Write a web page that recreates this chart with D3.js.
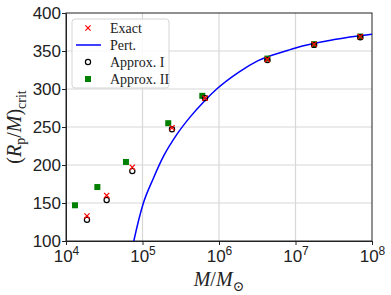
<!DOCTYPE html>
<html>
  <head>
    <meta charset="utf-8">
    <style type="text/css">
      body { margin: 0; background: #fff; }
      svg { font-family: "Liberation Serif", "DejaVu Serif", serif; }
      .grid line { stroke: #d8d8d8; stroke-width: 1.2; }
      .axis path, .axis line { stroke: #222; }
      .axis text { fill: #222; }
    </style>
  </head>
  <body>
    <script src="https://d3js.org/d3.v7.min.js"></script>
    <script>
      // values
      var exactM   = [1.88e4, 3.4e4, 7.36e4, 2.43e5, 6.56e5, 4.29e6, 1.75e7, 7.03e7];
      var exactR   = [133, 160, 197, 249, 288, 339, 359, 369];
      var approx1M = [1.88e4, 3.4e4, 7.36e4, 2.43e5, 6.56e5, 4.29e6, 1.75e7, 7.03e7];
      var approx1R = [128, 154, 192, 247, 288, 338, 358, 368];
      var approx2M = [1.31e4, 2.57e4, 6.08e4, 2.17e5, 6.05e5, 4.29e6, 1.75e7, 7.03e7];
      var approx2R = [147, 171, 204, 255, 291, 340, 359, 369];
      var pertM    = [7.0e4, 7.7e4, 1.02e5, 1.38e5, 1.87e5, 2.8e5, 4.18e5, 6.56e5, 9.33e5, 1.8e6, 3.2e6, 8.05e6, 1e7, 3.2e7, 1e8];
      var pertR    = [80, 100, 149, 182, 211, 240, 263, 285, 300, 322, 337, 351, 354, 365, 372];
      var xTicks   = [1e4, 1e5, 1e6, 1e7, 1e8];
      var yTicks   = [100, 150, 200, 250, 300, 350, 400];
      var legendLabels = ["Exact", "Pert.", "Approx. I", "Approx. II"];

      var width = 391, height = 295;
      var pLeft = 66, pRight = 372, pTop = 13, pBottom = 241;

      var x = d3.scaleLog().domain([1e4, 1e8]).range([pLeft, pRight]);
      var y = d3.scaleLinear().domain([100, 400]).range([pBottom, pTop]);

      var svg = d3.select("body").append("svg")
          .attr("width", width)
          .attr("height", height);

      svg.append("defs").append("clipPath").attr("id", "plot")
        .append("rect")
          .attr("x", pLeft).attr("y", pTop)
          .attr("width", pRight - pLeft).attr("height", pBottom - pTop);

      // grid
      var grid = svg.append("g").attr("class", "grid");
      grid.selectAll(".gx").data(xTicks.slice(1, -1)).enter().append("line")
          .attr("x1", function(d) { return x(d); }).attr("x2", function(d) { return x(d); })
          .attr("y1", pTop).attr("y2", pBottom);
      grid.selectAll(".gy").data(yTicks.slice(1, -1)).enter().append("line")
          .attr("y1", function(d) { return y(d); }).attr("y2", function(d) { return y(d); })
          .attr("x1", pLeft).attr("x2", pRight);

      // axes
      var xAxis = svg.append("g").attr("class", "axis")
          .attr("transform", "translate(0," + pBottom + ")")
          .call(d3.axisBottom(x).tickValues(xTicks).tickSize(4).tickSizeOuter(0).tickFormat(""));
      xAxis.selectAll(".tick").append("text")
          .attr("y", 21)
          .attr("text-anchor", "middle")
          .style("font-size", "17px")
          .each(function(d) {
            var t = d3.select(this);
            t.append("tspan").text("10");
            t.append("tspan").attr("dy", -7).style("font-size", "12px").text(Math.round(Math.log10(d)));
          });

      svg.append("g").attr("class", "axis")
          .attr("transform", "translate(" + pLeft + ",0)")
          .call(d3.axisLeft(y).tickValues(yTicks).tickSize(4).tickSizeOuter(0))
        .selectAll("text")
          .style("font-size", "17px")
          .attr("x", -5);

      // frame
      svg.append("rect")
          .attr("x", pLeft).attr("y", pTop)
          .attr("width", pRight - pLeft).attr("height", pBottom - pTop)
          .attr("fill", "none").attr("stroke", "#222");

      var plot = svg.append("g").attr("clip-path", "url(#plot)");

      var line = d3.line()
          .x(function(d, i) { return x(pertM[i]); })
          .y(function(d) { return y(d); })
          .curve(d3.curveMonotoneX);

      plot.append("path")
          .datum(pertR)
          .attr("d", line)
          .attr("fill", "none")
          .attr("stroke", "#0000ff")
          .attr("stroke-width", 1.5);

      // Approx. II squares
      plot.selectAll(".sq").data(approx2R).enter().append("rect")
          .attr("x", function(d, i) { return x(approx2M[i]) - 3; })
          .attr("y", function(d) { return y(d) - 3; })
          .attr("width", 6).attr("height", 6)
          .attr("fill", "#008000");

      // Approx. I circles
      plot.selectAll(".ci").data(approx1R).enter().append("circle")
          .attr("cx", function(d, i) { return x(approx1M[i]); })
          .attr("cy", function(d) { return y(d); })
          .attr("r", 2.6)
          .attr("fill", "none")
          .attr("stroke", "#000")
          .attr("stroke-width", 1.2);

      // Exact crosses
      plot.selectAll(".ex").data(exactR).enter().append("path")
          .attr("transform", function(d, i) { return "translate(" + x(exactM[i]) + "," + y(d) + ")"; })
          .attr("d", "M-2.6,-2.6L2.6,2.6M-2.6,2.6L2.6,-2.6")
          .attr("stroke", "#ff0000")
          .attr("stroke-width", 1.2);

      // legend
      var lg = svg.append("g");
      lg.append("rect")
          .attr("x", 72).attr("y", 19).attr("width", 97).attr("height", 69)
          .attr("rx", 3)
          .attr("fill", "#fff").attr("fill-opacity", 0.85)
          .attr("stroke", "#d5d5d5");
      var rowY = [28, 45, 62, 79];
      lg.append("path")
          .attr("d", "M" + (88 - 2.6) + "," + (rowY[0] - 2.6) + "l5.2,5.2m-5.2,0l5.2,-5.2")
          .attr("stroke", "#ff0000").attr("stroke-width", 1.2);
      lg.append("line")
          .attr("x1", 76).attr("x2", 101).attr("y1", rowY[1]).attr("y2", rowY[1])
          .attr("stroke", "#0000ff").attr("stroke-width", 1.5);
      lg.append("circle")
          .attr("cx", 88).attr("cy", rowY[2]).attr("r", 2.6)
          .attr("fill", "none").attr("stroke", "#000").attr("stroke-width", 1.2);
      lg.append("rect")
          .attr("x", 88 - 3).attr("y", rowY[3] - 3).attr("width", 6).attr("height", 6)
          .attr("fill", "#008000");
      lg.selectAll(".lt").data(legendLabels).enter().append("text")
          .attr("x", 110)
          .attr("y", function(d, i) { return rowY[i]; })
          .attr("dy", "0.35em")
          .style("font-size", "14px")
          .attr("fill", "#222")
          .text(function(d) { return d; });

      // axis labels
      var xl = svg.append("text")
          .attr("x", (pLeft + pRight) / 2)
          .attr("y", 286)
          .attr("text-anchor", "middle")
          .style("font-size", "20px")
          .attr("fill", "#222");
      xl.append("tspan").style("font-style", "italic").text("M");
      xl.append("tspan").text("/");
      xl.append("tspan").style("font-style", "italic").text("M");
      xl.append("tspan").attr("dy", 5).style("font-size", "14px").text("\u2299");

      var yl = svg.append("text")
          .attr("transform", "translate(21," + ((pTop + pBottom) / 2) + ") rotate(-90)")
          .attr("text-anchor", "middle")
          .style("font-size", "20px")
          .attr("fill", "#222");
      yl.append("tspan").text("(");
      yl.append("tspan").style("font-style", "italic").text("R");
      yl.append("tspan").attr("dy", 4).style("font-size", "14px").text("p");
      yl.append("tspan").attr("dy", -4).text("/");
      yl.append("tspan").style("font-style", "italic").text("M");
      yl.append("tspan").text(")");
      yl.append("tspan").attr("dy", 5).style("font-size", "14px").text("crit");
    </script>
  </body>
</html>
